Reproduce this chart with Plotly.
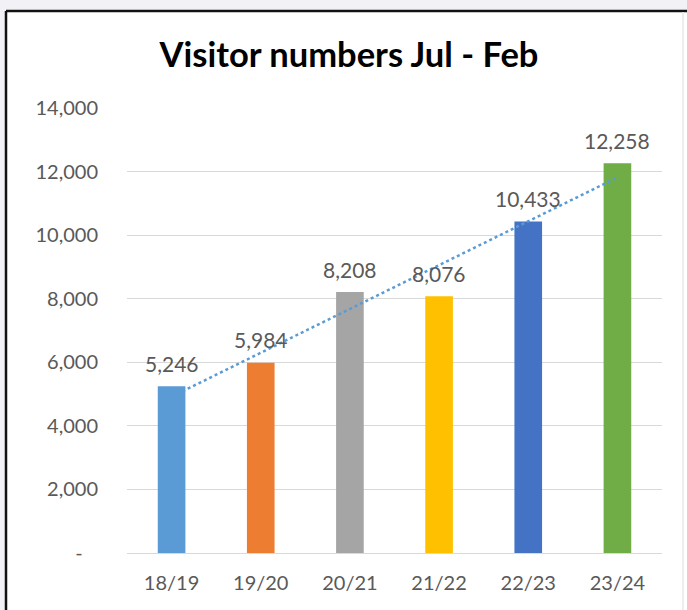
import numpy as np
import plotly.graph_objects as go

categories = ["18/19", "19/20", "20/21", "21/22", "22/23", "23/24"]
visitors = [5246, 5984, 8208, 8076, 10433, 12258]
bar_colors = ["#5B9BD5", "#ED7D31", "#A5A5A5", "#FFC000", "#4472C4", "#70AD47"]
y_tick_vals = [0, 2000, 4000, 6000, 8000, 10000, 12000, 14000]
y_tick_text = ["-\u00a0\u00a0\u00a0", "2,000", "4,000", "6,000", "8,000", "10,000", "12,000", "14,000"]
title_text = "Visitor numbers Jul - Feb"

W, H = 687, 610
L, R, T, B = 127, 25, 108, 57
PW, PH = W - L - R, H - T - B


def px(x):
    return (x - L) / PW


def py(y):
    return (H - B - y) / PH


FONT = "Lato, Open Sans, sans-serif"
GRAY = "#595959"

fig = go.Figure()
fig.add_trace(go.Bar(
    x=categories, y=visitors, marker=dict(color=bar_colors, line=dict(width=0)),
    width=0.31, hoverinfo="x+y", showlegend=False,
))

# linear trendline (least squares, as Excel's linear trendline)
idx = np.arange(1, len(visitors) + 1)
slope, intercept = np.polyfit(idx, visitors, 1)
trend = slope * idx + intercept
fig.add_trace(go.Scatter(
    x=categories, y=trend, mode="lines",
    line=dict(color="#5B9BD5", width=2.5, dash="dot"),
    showlegend=False, hoverinfo="skip",
))

for c, v in zip(categories, visitors):
    fig.add_annotation(
        x=c, y=v, text=f"{v:,}", showarrow=False, yshift=23, yanchor="middle",
        font=dict(family=FONT, size=21, color=GRAY),
    )

shapes = [
    dict(type="rect", xref="paper", yref="paper", x0=px(0), x1=px(W), y0=py(0), y1=py(11),
         fillcolor="#f2f1f5", line=dict(width=0), layer="below"),
    dict(type="rect", xref="paper", yref="paper", x0=px(0), x1=px(5), y0=py(0), y1=py(H),
         fillcolor="#f2f1f5", line=dict(width=0), layer="below"),
    dict(type="line", xref="paper", yref="paper", x0=px(6), x1=px(6), y0=py(11), y1=py(H),
         line=dict(color="#111111", width=2.5), layer="above"),
    dict(type="line", xref="paper", yref="paper", x0=px(6), x1=px(W), y0=py(11), y1=py(11),
         line=dict(color="#111111", width=2.5), layer="above"),
    dict(type="line", xref="paper", yref="paper", x0=px(683), x1=px(683), y0=py(12), y1=py(H),
         line=dict(color="#e8e8e8", width=1.5), layer="above"),
]

fig.update_layout(
    width=W, height=H,
    margin=dict(l=L, r=R, t=T, b=B),
    paper_bgcolor="white", plot_bgcolor="white",
    shapes=shapes,
    title=dict(text=f"<b>{title_text}</b>", x=349 / W, xanchor="center",
               y=1 - 55 / H, yanchor="middle", yref="container",
               font=dict(family=FONT, size=34.5, color="#000000")),
    font=dict(family=FONT, color=GRAY),
    bargap=0.69,
)
fig.update_yaxes(
    range=[0, 14000], tickvals=y_tick_vals, ticktext=y_tick_text,
    showgrid=True, gridcolor="#d9d9d9", gridwidth=1.2,
    zeroline=True, zerolinecolor="#d9d9d9", zerolinewidth=1.2,
    showline=False, ticks="", ticklabelstandoff=28,
    tickfont=dict(family=FONT, size=20, color=GRAY), fixedrange=True,
)
fig.update_xaxes(
    showline=True, linecolor="#d9d9d9", linewidth=1.2, ticks="",
    ticklabelstandoff=12,
    tickfont=dict(family=FONT, size=20, color=GRAY), fixedrange=True,
)

fig.write_html(
    "out.html",
    config={"displayModeBar": False},
    post_script="document.body.style.margin='0';document.body.style.overflow='hidden';",
)
